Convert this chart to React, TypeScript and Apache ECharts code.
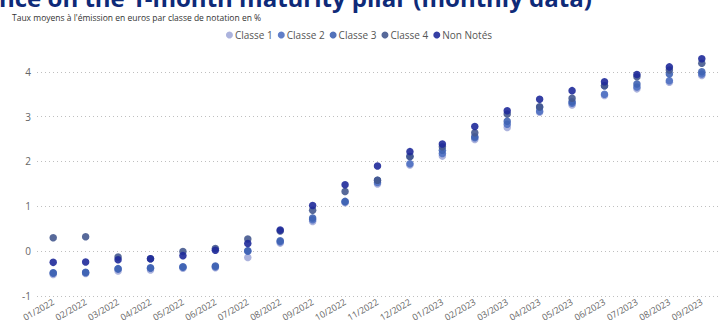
import React, { useEffect, useRef } from "react";
import * as echarts from "echarts";

const categories = [
  "01/2022", "02/2022", "03/2022", "04/2022", "05/2022", "06/2022", "07/2022",
  "08/2022", "09/2022", "10/2022", "11/2022", "12/2022", "01/2023", "02/2023",
  "03/2023", "04/2023", "05/2023", "06/2023", "07/2023", "08/2023", "09/2023",
];

const classe1 = [-0.52, -0.5, -0.44, -0.42, -0.38, -0.37, -0.14, 0.18, 0.66, 1.08, 1.5, 1.92, 2.12, 2.49, 2.76, 3.1, 3.26, 3.47, 3.62, 3.77, 3.92];
const classe2 = [-0.49, -0.48, -0.4, -0.38, -0.36, -0.35, 0.0, 0.21, 0.7, 1.1, 1.53, 1.95, 2.18, 2.53, 2.83, 3.12, 3.3, 3.5, 3.66, 3.8, 3.95];
const classe3 = [-0.48, -0.47, -0.39, -0.37, -0.35, -0.33, 0.01, 0.23, 0.74, 1.11, 1.58, 2.11, 2.25, 2.55, 2.9, 3.21, 3.33, 3.69, 3.73, 3.95, 4.0];
const classe4 = [0.3, 0.32, -0.13, -0.17, -0.01, 0.06, 0.27, 0.45, 0.91, 1.33, 1.58, 2.11, 2.33, 2.64, 3.06, 3.22, 3.41, 3.69, 3.89, 4.04, 4.19];
const nonNotes = [-0.25, -0.24, -0.19, -0.17, -0.1, 0.02, 0.17, 0.47, 1.02, 1.48, 1.9, 2.22, 2.39, 2.78, 3.13, 3.39, 3.58, 3.78, 3.94, 4.11, 4.29];

const seriesNames = ["Classe 1", "Classe 2", "Classe 3", "Classe 4", "Non Notés"];
const seriesData = [classe1, classe2, classe3, classe4, nonNotes];
const colors = ["#a3abd9", "#4f70c2", "#3f63b2", "#45598f", "#1f2a9a"];

const titleText = "nce on the 1-month maturity pilar (monthly data)";
const subtitleText = "Taux moyens à l'émission en euros par classe de notation en %";

const narrow = "'Liberation Sans Narrow', 'Open Sans', sans-serif";

export default function App() {
  const ref = useRef<HTMLDivElement>(null);
  useEffect(() => {
    if (!ref.current) return;
    const chart = echarts.init(ref.current, undefined, { renderer: "svg" });
    chart.setOption({
      animation: false,
      backgroundColor: "#ffffff",
      color: colors,
      graphic: [
        {
          type: "text",
          left: -1,
          top: -15,
          style: {
            text: titleText,
            fontSize: 24,
            fontWeight: "bold",
            fontFamily: "'Open Sans', sans-serif",
            fill: "#0e2a78",
          },
        },
        {
          type: "text",
          left: 12,
          top: 13,
          style: {
            text: subtitleText,
            fontSize: 8.5,
            fontFamily: narrow,
            fill: "#333333",
          },
        },
      ],
      legend: {
        top: 25,
        left: "center",
        icon: "circle",
        itemWidth: 7,
        itemHeight: 7,
        itemGap: 5,
        textStyle: { fontSize: 10, color: "#555555", fontFamily: narrow, padding: [0, 0, 0, -3] },
        data: seriesNames,
      },
      grid: { left: 37, right: 0, top: 49.4, bottom: 31, containLabel: false },
      xAxis: {
        type: "category",
        data: categories,
        axisLine: { show: false },
        axisTick: { show: false },
        axisLabel: {
          rotate: 30,
          fontSize: 9,
          color: "#666666",
          margin: 5,
          interval: 0,
          fontFamily: "'Open Sans', sans-serif",
        },
        splitLine: { show: false },
      },
      yAxis: {
        type: "value",
        min: -1,
        max: 4.5,
        interval: 1,
        axisLine: { show: false },
        axisTick: { show: false },
        axisLabel: {
          fontSize: 10,
          color: "#666666",
          margin: 6,
          showMaxLabel: false,
          fontFamily: "'Open Sans', sans-serif",
        },
        splitLine: {
          show: true,
          showMaxLine: false,
          lineStyle: { type: [1, 3], color: "#bfbfbf", width: 1 },
        },
      },
      series: seriesNames.map((name, i) => ({
        name,
        type: "scatter",
        data: seriesData[i],
        symbol: "circle",
        symbolSize: 7.5,
        itemStyle: { color: colors[i], opacity: 0.9 },
      })),
    });
    return () => chart.dispose();
  }, []);
  return (
    <div
      ref={ref}
      style={{ position: "absolute", left: 0, top: 0, width: 718, height: 327 }}
    />
  );
}
